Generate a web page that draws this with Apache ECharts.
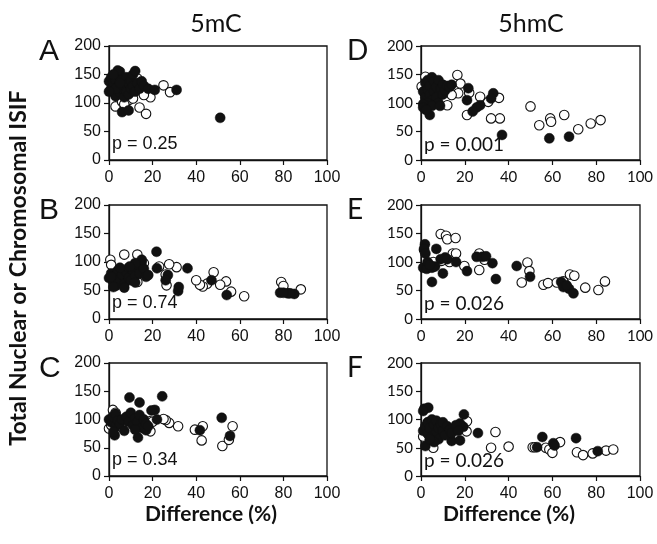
<!DOCTYPE html>
<html><head><meta charset="utf-8">
<script src="https://cdn.jsdelivr.net/npm/echarts@6/dist/echarts.min.js"></script>
<style>html,body{margin:0;padding:0;background:#fff}#c{width:657px;height:544px}</style>
</head><body><div id="c"></div>
<script>
// ---- data ----
var xMin = 0, xMax = 100, xStep = 20;
var yMin = 0, yMax = 200, yStep = 50;
var columnTitles = ['5mC', '5hmC'];
var panelLetters = ['A', 'B', 'C', 'D', 'E', 'F'];
var pValues = ['p = 0.25', 'p = 0.74', 'p = 0.34', 'p = 0.001', 'p = 0.026', 'p = 0.026'];
var yTitle = 'Total Nuclear or Chromosomal ISIF';
var xTitle = 'Difference (%)';

var aFilled = [[0,138],[1,125],[1,145],[2,120],[2,135],[3,112],[3,140],[4,150],[4,128],[5,155],[5,118],[6,140],[6,125],[7,132],[7,110],[8,145],[8,120],[9,135],[9,115],[10,140],[10,125],[11,150],[11,130],[12,120],[13,135],[14,125],[15,138],[16,130],[18,125],[6,84],[9,87],[21,123],[31,123],[51,74],[4,157],[12,156],[3,125],[5,135],[0,120],[2,150]];
var aOpen = [[25,131],[28,119],[19,110],[16,114],[14,92],[17,81],[3,94],[6,102],[8,102],[9.5,106],[10,143],[13,143],[3,131],[7,98],[11,108]];

var bFilled = [[0,72],[1,80],[2,65],[3,75],[3,58],[4,85],[5,70],[6,78],[7,62],[8,82],[9,72],[9,90],[10,68],[11,85],[12,75],[13,95],[14,80],[15,100],[16,88],[17,74],[5,90],[7,55],[12,64],[21.8,118],[36,89],[47,68],[54,42],[31.7,49],[32,56],[27,77],[26,68],[82,45],[78.5,46],[85,44],[83,45],[80,46],[22,89],[18,77],[15,104],[12,98],[9.5,92],[2,56],[1,74]];
var bOpen = [[79,65],[80,58],[88,52],[62,40],[56,48],[53.7,66],[51,60],[48,82],[45,62],[43,57],[41.7,60],[40,68],[31,91],[27.6,96],[23,92],[26,78],[26.4,59],[7,113],[13,113],[16,98],[0.6,104],[1,95],[13,65],[10,78],[5,82]];

var cFilled = [[24.4,141],[9.4,139],[14,130],[51.7,103],[55.5,71],[41.7,81],[21,117],[19.5,116],[22,100],[13.3,68],[2.6,72],[17,81],[0,100],[1,95],[2,105],[3,88],[3,110],[4,98],[5,92],[6,100],[8,105],[9,96],[10,112],[11,90],[12,102],[13,95],[14,108],[15,85],[16,100],[17,92],[18,88],[7,80],[12,82],[2,78]];
var cOpen = [[31.7,88],[27.6,94],[26,99],[25,101],[39.4,82],[43,88],[42.5,63],[52,53],[55,64],[56.7,88],[19,79],[18.7,97],[1.8,117],[0,84],[5.7,87],[1,90],[3,112],[15,95],[20,96]];

var dFilled = [[1,120],[2,135],[2,110],[3,125],[3,140],[4,115],[4,130],[5,145],[5,105],[6,120],[6,138],[7,128],[7,110],[8,140],[8,100],[9,125],[10,132],[10,115],[11,122],[12,130],[13,128],[3,100],[5,95],[1,98],[37,44],[58.6,38],[67.6,41],[33,117],[32,108],[27,96],[25.4,92],[23.6,85],[21,105],[21.6,126],[14,132],[4,79],[1,92],[2.3,88],[8.7,95]];
var dOpen = [[50,94],[54,61],[59,73],[59.4,67],[65.4,79],[71.8,54],[77.5,64],[82,70],[36,73],[32,73],[35.6,109],[30.7,102],[27,111],[21,79],[16.6,149],[18,134],[22,118],[12,96],[12.5,126],[2,146],[0.3,129],[17,117],[14,114],[4,122],[8,112]];

var eFilled = [[1.8,131],[1.4,123],[7,123],[5,65],[10,80],[11,108],[9,105],[16,100],[21,84],[25.4,109],[28,109],[29.7,110],[32.6,98],[34.2,70],[43.7,93],[49.8,74],[64,65],[65,56],[67.6,53],[69.6,45],[66.5,59],[1,90],[2.6,88],[5,90],[6.4,92],[3,100],[2,115],[4,95],[12,105]];
var eOpen = [[9,149],[11.4,146],[12,140],[15.8,142],[14.5,115],[16,115],[13,100],[9.4,102],[19.8,93],[26.6,86],[26.6,115],[29,104],[48.6,99],[49.5,84],[46,64],[55.9,60],[58,63],[62,64],[65,66],[68,78],[70,76],[75,55],[81,51],[84,66],[1.4,121],[5.6,100]];

var fFilled = [[1.5,119],[3.3,121],[1,115],[19.6,109],[26,76],[55.4,69],[60.4,58],[70.8,67],[80.7,44],[61,54],[53,51],[2,53],[14,62],[17.8,63],[19.3,87],[17.8,93],[1,80],[2,88],[3,75],[3,95],[4,85],[5,70],[5,100],[6,90],[7,78],[7,98],[8,65],[8,85],[9,92],[10,80],[10,95],[11,72],[12,88],[13,82],[14,76],[16,90],[17,80],[6,60],[4,65]];
var fOpen = [[34,78],[32,50],[40,52],[51,51],[52,51],[57,50],[58.6,47],[60,41],[63.5,60],[71.2,42],[74,37],[78.4,40],[84.5,45],[87.8,47],[21,97],[20.8,79],[13,81],[5.6,50],[3.3,72],[4,96],[1,70],[9,84]];

var filledSets = [aFilled, bFilled, cFilled, dFilled, eFilled, fFilled];
var openSets = [aOpen, bOpen, cOpen, dOpen, eOpen, fOpen];

// ---- layout ----
var lefts = [109, 109, 109, 421, 421, 421];
var tops = [46, 205, 363, 46, 205, 363];
var widths = [218, 218, 218, 219, 219, 219];
var heights = [114, 114, 113, 114, 114, 113];
var ARIAL = '"Liberation Sans", Arial, sans-serif';
var CALI = 'Lato, "Open Sans", sans-serif';
var INK = '#111';

var grids = [], xAxes = [], yAxes = [], series = [], graphics = [];
for (var i = 0; i < 6; i++) {
  var right = i >= 3;
  var fam = right ? CALI : ARIAL;
  var fs = right ? 15 : 16;
  grids.push({left: lefts[i], top: tops[i], width: widths[i], height: heights[i], show: true, borderColor: INK, borderWidth: 1.3, backgroundColor: 'transparent', containLabel: false});
  xAxes.push({gridIndex: i, type: 'value', min: xMin, max: xMax, interval: xStep,
    axisLine: {show: true, onZero: false, lineStyle: {color: INK, width: 1.3}},
    axisTick: {show: true, length: 5, lineStyle: {color: INK, width: 1.2}},
    axisLabel: {color: INK, fontFamily: (i === 5 ? ARIAL : fam), fontSize: (i === 5 ? 16 : fs), margin: 10},
    splitLine: {show: false}});
  yAxes.push({gridIndex: i, type: 'value', min: yMin, max: yMax, interval: yStep,
    axisLine: {show: true, onZero: false, lineStyle: {color: INK, width: 1.3}},
    axisTick: {show: true, length: 5, lineStyle: {color: INK, width: 1.2}},
    axisLabel: {color: INK, fontFamily: fam, fontSize: fs, margin: 8},
    splitLine: {show: false}});
  series.push({type: 'scatter', xAxisIndex: i, yAxisIndex: i, data: openSets[i], symbol: 'circle', symbolSize: 9.5,
    itemStyle: {color: '#fff', borderColor: '#111', borderWidth: 1.1, opacity: 1}, silent: true, animation: false});
  series.push({type: 'scatter', xAxisIndex: i, yAxisIndex: i, data: filledSets[i], symbol: 'circle', symbolSize: 10,
    itemStyle: {color: '#111', borderColor: '#111', borderWidth: 0.5, opacity: 1}, silent: true, animation: false});
  // panel letter
  graphics.push({type: 'text', left: right ? 347 : 39, top: tops[i] - 9,
    style: {text: panelLetters[i], font: (right ? '28px ' + CALI : '30px ' + ARIAL), fill: INK}});
  // p value
  graphics.push({type: 'text', left: lefts[i] + 3, top: tops[i] + heights[i] - 25,
    style: {text: pValues[i], font: (right ? '19px ' + CALI : '18px ' + ARIAL), fill: INK}});
}
// column titles
graphics.push({type: 'text', x: 216, y: 24, style: {text: columnTitles[0], font: '25px ' + CALI, fill: INK, align: 'center', verticalAlign: 'middle', textAlign: 'center', textVerticalAlign: 'middle'}});
graphics.push({type: 'text', x: 531, y: 24, style: {text: columnTitles[1], font: '25px ' + CALI, fill: INK, align: 'center', verticalAlign: 'middle', textAlign: 'center', textVerticalAlign: 'middle'}});
// x titles
graphics.push({type: 'text', x: 211, y: 514, style: {text: xTitle, font: 'bold 21px ' + CALI, fill: INK, align: 'center', verticalAlign: 'middle', textAlign: 'center', textVerticalAlign: 'middle'}});
graphics.push({type: 'text', x: 509, y: 514, style: {text: xTitle, font: 'bold 21px ' + CALI, fill: INK, align: 'center', verticalAlign: 'middle', textAlign: 'center', textVerticalAlign: 'middle'}});
// y title
graphics.push({type: 'text', x: 19, y: 268, rotation: Math.PI / 2, style: {text: yTitle, font: 'bold 23px ' + CALI, fill: INK, align: 'center', verticalAlign: 'middle', textAlign: 'center', textVerticalAlign: 'middle'}});

var chart = echarts.init(document.getElementById('c'), null, {renderer: 'canvas'});
chart.setOption({animation: false, backgroundColor: '#fff', grid: grids, xAxis: xAxes, yAxis: yAxes, series: series, graphic: graphics});
</script></body></html>
